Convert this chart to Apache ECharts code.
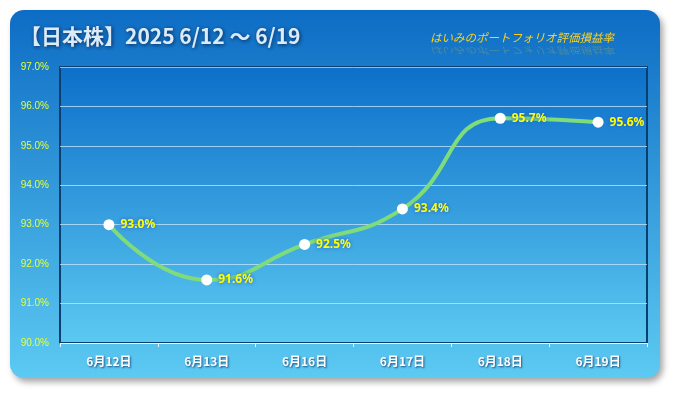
<!DOCTYPE html>
<html><head><meta charset="utf-8">
<script src="https://cdn.jsdelivr.net/npm/echarts@6/dist/echarts.min.js"></script>
<style>html,body{margin:0;padding:0;background:#fff}#c{width:675px;height:393px}</style>
</head><body><div id="c"></div>
<script>
const categories = ['6月12日','6月13日','6月16日','6月17日','6月18日','6月19日'];
const values = [93.0, 91.6, 92.5, 93.4, 95.7, 95.6];
const yTicks = [90, 91, 92, 93, 94, 95, 96, 97];
const titleText = '【日本株】2025 6/12 〜 6/19';
const subtitleText = 'はいみのポートフォリオ評価損益率';

const chart = echarts.init(document.getElementById('c'), null, {renderer:'canvas'});
const grad = (a,b)=>new echarts.graphic.LinearGradient(0,0,0,1,[{offset:0,color:a},{offset:1,color:b}]);
chart.setOption({
  animation:false,
  graphic:[
    {type:'rect', z:-10, shape:{x:10,y:10,width:650,height:368,r:14},
     style:{fill:grad('#0d6cc4','#5ccaf2'), shadowColor:'rgba(0,0,0,0.35)', shadowBlur:6, shadowOffsetX:3, shadowOffsetY:4}},
    {type:'text', left:20, top:26, style:{text:titleText, fill:'#dcebf8', font:'bold 21px "Noto Sans CJK JP", sans-serif', textShadowColor:'rgba(0,20,60,0.8)', textShadowBlur:4, textShadowOffsetX:1, textShadowOffsetY:1}},
    {type:'text', left:430, top:32, style:{text:subtitleText, fill:'#ffd21a', font:'italic 11.5px "Noto Sans CJK JP", sans-serif'}},
    {type:'text', left:430, top:46, scaleY:-0.8, originY:0, style:{text:subtitleText, fill:'rgba(255,210,26,0.22)', font:'italic 11.5px "Noto Sans CJK JP", sans-serif'}}
  ],
  grid:{left:60, right:28, top:67, bottom:50, show:true, borderColor:'#0a3f70', borderWidth:2,
        backgroundColor:grad('#0c6fc9','#5cc9f1')},
  xAxis:{type:'category', data:categories, boundaryGap:true,
    axisLine:{show:true, lineStyle:{color:'#e8f4ff', width:1}},
    axisTick:{show:true, lineStyle:{color:'#e8f4ff'}, length:4},
    axisLabel:{color:'#ffffff', fontWeight:'bold', fontSize:12, margin:12, fontFamily:'"Noto Sans CJK JP", sans-serif',
      textShadowColor:'rgba(0,30,80,0.7)', textShadowBlur:2, textShadowOffsetX:1, textShadowOffsetY:1}},
  yAxis:{type:'value', min:yTicks[0], max:yTicks[yTicks.length-1], interval:1,
    axisLine:{show:false}, axisTick:{show:false},
    splitLine:{lineStyle:{color:'rgba(200,230,255,0.75)', width:1}},
    axisLabel:{color:'#e6ff33', fontSize:10, margin:11, fontFamily:'"Liberation Sans", sans-serif', formatter:v=>v.toFixed(1)+'%'}},
  series:[{type:'line', data:values, smooth:0.5, symbol:'circle', symbolSize:11,
    itemStyle:{color:'#ffffff', borderWidth:0},
    lineStyle:{color:'#7fdc7a', width:4},
    label:{show:true, position:'right', distance:6, formatter:p=>p.value.toFixed(1)+'%',
      color:'#ffff00', fontWeight:'bold', fontSize:12, fontFamily:'"Noto Sans", sans-serif',
      textShadowColor:'#1a55d0', textShadowBlur:4},
    z:5}]
});
</script></body></html>
